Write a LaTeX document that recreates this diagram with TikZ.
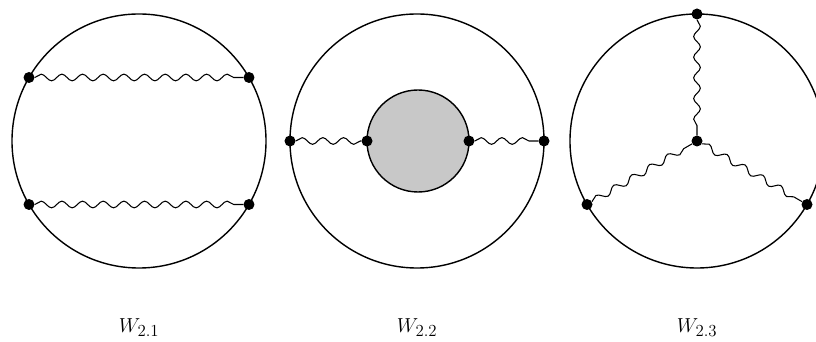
\documentclass[tikz,border=0pt]{standalone}
\usepackage{amsmath}
\usetikzlibrary{decorations.pathmorphing,positioning}
\definecolor{blobgray}{RGB}{200,200,200}

\begin{document}
\begin{tikzpicture}[x=0.03cm,y=0.03cm,
  loop/.style={draw,circle,line width=1.2pt,minimum size=7.62cm,inner sep=0pt,outer sep=0pt},
  blob/.style={draw,circle,line width=1.2pt,fill=blobgray,minimum size=3.06cm,inner sep=0pt,outer sep=0pt},
  vtx/.style={circle,fill=black,minimum size=0.33cm,inner sep=0pt},
  photon/.style={decorate,decoration={snake,amplitude=0.1cm,segment length=0.62cm},line width=0.9pt},
  lbl/.style={anchor=base,font=\fontsize{19}{22}\selectfont}]
\useasboundingbox (0,0) rectangle (816,342);
% loops
\node[loop] (c1) at (139,201) {};
\node[loop] (c2) at (417,201) {};
\node[loop] (c3) at (697,201) {};
\node[blob] (bub) at (418,201) {};
% vertices
\node[vtx] (a1) at (c1.150) {}; \node[vtx] (a2) at (c1.30) {};
\node[vtx] (a3) at (c1.210) {}; \node[vtx] (a4) at (c1.330) {};
\node[vtx] (b1) at (c2.west) {}; \node[vtx] (b2) at (bub.west) {};
\node[vtx] (b3) at (bub.east) {}; \node[vtx] (b4) at (c2.east) {};
\node[vtx] (d0) at (c3.center) {}; \node[vtx] (d1) at (c3.90) {};
\node[vtx] (d2) at (c3.210) {}; \node[vtx] (d3) at (c3.330) {};
% photon lines
\draw[photon] (a1) -- (a2); \draw[photon] (a3) -- (a4);
\draw[photon] (b1) -- (b2); \draw[photon] (b3) -- (b4);
\draw[photon] (d1) -- (d0); \draw[photon] (d2) -- (d0);
\draw[photon] (d0) -- (d3);
% labels
\node[lbl] (l1) at (139,9) {$W_{2.1}$};
\node[lbl] (l2) at (417,9) {$W_{2.2}$};
\node[lbl] (l3) at (697,9) {$W_{2.3}$};
\end{tikzpicture}
\end{document}
